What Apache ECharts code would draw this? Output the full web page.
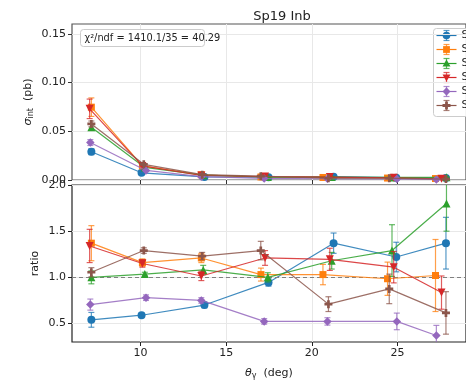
<!DOCTYPE html>
<html><head><meta charset="utf-8">
<script src="https://cdn.jsdelivr.net/npm/echarts@6/dist/echarts.min.js"></script>
<style>html,body{margin:0;padding:0;background:#fff}#c{width:466px;height:381px}</style>
</head><body><div id="c"></div>
<script>
// ---- data ----
const seriesNames = ['Syst 1','Syst 2','Syst 3','Syst 4','Syst 5','Syst 6'];
const xTickValues = [10, 15, 20, 25];
const sigmaTicks = [0, 0.05, 0.10, 0.15];
const ratioTicks = [0.5, 1.0, 1.5, 2.0];

const xBlue   = [7.13, 10.06, 13.73, 17.47, 21.27, 24.93, 27.83];
const xOrange = [7.13, 10.11, 13.55, 17.03, 20.65, 24.42, 27.22];
const xGreen  = [7.13, 10.25, 13.66, 17.43, 21.16, 24.68, 27.86];
const xRed    = [7.03, 10.11, 13.55, 17.27, 21.05, 24.78, 27.57];
const xPurple = [7.07, 10.32, 13.55, 17.22, 20.91, 24.96, 27.27];
const xBrown  = [7.13, 10.19, 13.60, 17.02, 20.97, 24.52, 27.83];

const sigBlue   = [0.0290, 0.0074, 0.0032, 0.0028, 0.0034, 0.0024, 0.0021];
const sigOrange = [0.0747, 0.0145, 0.0054, 0.0031, 0.0026, 0.0020, 0.0015];
const sigGreen  = [0.0540, 0.0129, 0.0049, 0.0030, 0.0030, 0.0026, 0.0027];
const sigRed    = [0.0730, 0.0144, 0.0046, 0.0036, 0.0030, 0.0022, 0.0013];
const sigPurple = [0.0384, 0.0098, 0.0034, 0.0016, 0.0013, 0.0010, 0.0006];
const sigBrown  = [0.0575, 0.0161, 0.0055, 0.0039, 0.0018, 0.0018, 0.0009];

const sigErrBlue   = [0.0030, 0.0008, 0.0003, 0.0002, 0.0003, 0.0003, 0.0004];
const sigErrOrange = [0.0095, 0.0009, 0.0003, 0.0002, 0.0003, 0.0004, 0.0006];
const sigErrGreen  = [0.0030, 0.0005, 0.0003, 0.0002, 0.0002, 0.0005, 0.0005];
const sigErrRed    = [0.0100, 0.0009, 0.0003, 0.0002, 0.0003, 0.0004, 0.0003];
const sigErrPurple = [0.0030, 0.0005, 0.0002, 0.0001, 0.0001, 0.0002, 0.0002];
const sigErrBrown  = [0.0030, 0.0005, 0.0003, 0.0003, 0.0002, 0.0003, 0.0003];

const ratBlue   = [0.54, 0.59, 0.70, 0.945, 1.37, 1.22, 1.37];
const ratOrange = [1.37, 1.16, 1.21, 1.03, 1.03, 0.985, 1.02];
const ratGreen  = [1.00, 1.035, 1.08, 1.00, 1.18, 1.29, 1.80];
const ratRed    = [1.34, 1.15, 1.015, 1.21, 1.195, 1.11, 0.835];
const ratPurple = [0.705, 0.78, 0.75, 0.523, 0.523, 0.523, 0.37];
const ratBrown  = [1.055, 1.29, 1.23, 1.29, 0.71, 0.875, 0.615];

const ratErrBlue   = [0.08, 0.02, 0.03, 0.04, 0.11, 0.16, 0.28];
const ratErrOrange = [0.19, 0.04, 0.05, 0.07, 0.11, 0.18, 0.39];
const ratErrGreen  = [0.07, 0.02, 0.05, 0.05, 0.09, 0.28, 0.30];
const ratErrRed    = [0.18, 0.04, 0.05, 0.08, 0.12, 0.17, 0.18];
const ratErrPurple = [0.06, 0.03, 0.03, 0.03, 0.04, 0.09, 0.11];
const ratErrBrown  = [0.05, 0.03, 0.04, 0.10, 0.08, 0.16, 0.23];

// ---- styling ----
const colors = ['#1f77b4','#ff7f0e','#2ca02c','#d62728','#9467bd','#8c564b'];
const plusPath = 'path://M-1,-3H1V-1H3V1H1V3H-1V1H-3V-1H-1Z';
const symbols = ['circle','rect','triangle','triangle','diamond', plusPath];
const symRot = [0,0,0,180,0,0];
const symSizes = [8,7,8,8,8.5,8];

const xs = [xBlue,xOrange,xGreen,xRed,xPurple,xBrown];
const sig = [sigBlue,sigOrange,sigGreen,sigRed,sigPurple,sigBrown];
const sigE = [sigErrBlue,sigErrOrange,sigErrGreen,sigErrRed,sigErrPurple,sigErrBrown];
const rat = [ratBlue,ratOrange,ratGreen,ratRed,ratPurple,ratBrown];
const ratE = [ratErrBlue,ratErrOrange,ratErrGreen,ratErrRed,ratErrPurple,ratErrBrown];

const FONT = 'DejaVu Sans';
const chart = echarts.init(document.getElementById('c'), null, {renderer:'canvas'});

function errRender(color){
  return function(params, api){
    const x = api.value(0), lo = api.value(1), hi = api.value(2);
    const p1 = api.coord([x, lo]), p2 = api.coord([x, hi]);
    const w = 3;
    const st = {stroke: color, lineWidth: 1.2, opacity: 0.75};
    return {type:'group', children:[
      {type:'line', shape:{x1:p1[0],y1:p1[1],x2:p2[0],y2:p2[1]}, style:st},
      {type:'line', shape:{x1:p1[0]-w,y1:p1[1],x2:p1[0]+w,y2:p1[1]}, style:st},
      {type:'line', shape:{x1:p2[0]-w,y1:p2[1],x2:p2[0]+w,y2:p2[1]}, style:st}
    ]};
  };
}

const series = [];
series.push({type:'line', xAxisIndex:1, yAxisIndex:1, data:[], silent:true,
  markLine:{silent:true, symbol:'none', label:{show:false},
    lineStyle:{color:'#808080', type:[4,3], width:1.1}, data:[{yAxis:1}]}, z:1});

for (let i=0;i<6;i++){
  for (let g=0; g<2; g++){
    const vals = g===0 ? sig[i] : rat[i];
    const errs = g===0 ? sigE[i] : ratE[i];
    series.push({
      type:'custom', xAxisIndex:g, yAxisIndex:g, clip:true, silent:true,
      renderItem: errRender(colors[i]),
      data: xs[i].map((x,k)=>[x, vals[k]-errs[k], vals[k]+errs[k]]),
      z: 2+i*2
    });
    series.push({
      type:'line', name:seriesNames[i], xAxisIndex:g, yAxisIndex:g, clip:true,
      data: xs[i].map((x,k)=>[x, vals[k]]),
      symbol: symbols[i], symbolSize: symSizes[i], symbolRotate: symRot[i],
      showAllSymbol:true,
      itemStyle:{color:colors[i], opacity:1},
      lineStyle:{color:colors[i], width:1.2, opacity:0.85},
      animation:false, z: 3+i*2
    });
  }
}

const axisLabelStyle = {fontFamily:FONT, fontSize:11, color:'#222'};
const splitLineStyle = {show:true, lineStyle:{color:'#e8e8e8', width:1}};

// legend graphics
function legendMarker(i, cx, cy){
  const c = colors[i];
  const st = {fill:c};
  if (i===0) return {type:'circle', shape:{cx:cx, cy:cy, r:3.8}, style:st};
  if (i===1) return {type:'rect', shape:{x:cx-3.4, y:cy-3.4, width:6.8, height:6.8}, style:st};
  if (i===2) return {type:'polygon', shape:{points:[[cx,cy-4],[cx+4,cy+3],[cx-4,cy+3]]}, style:st};
  if (i===3) return {type:'polygon', shape:{points:[[cx,cy+4],[cx+4,cy-3],[cx-4,cy-3]]}, style:st};
  if (i===4) return {type:'polygon', shape:{points:[[cx,cy-4.2],[cx+4,cy],[cx,cy+4.2],[cx-4,cy]]}, style:st};
  return {type:'polygon', shape:{points:[[cx-1.4,cy-4],[cx+1.4,cy-4],[cx+1.4,cy-1.4],[cx+4,cy-1.4],[cx+4,cy+1.4],[cx+1.4,cy+1.4],[cx+1.4,cy+4],[cx-1.4,cy+4],[cx-1.4,cy+1.4],[cx-4,cy+1.4],[cx-4,cy-1.4],[cx-1.4,cy-1.4]]}, style:st};
}
const legendChildren = [{type:'rect', shape:{x:0,y:0,width:60,height:88,r:3},
  style:{fill:'rgba(255,255,255,0.9)', stroke:'#cccccc', lineWidth:1}}];
for (let i=0;i<6;i++){
  const cy = 7 + i*14;
  const st = {stroke:colors[i], lineWidth:1.2};
  legendChildren.push({type:'line', shape:{x1:3,y1:cy,x2:23,y2:cy}, style:st});
  legendChildren.push({type:'line', shape:{x1:13,y1:cy-5,x2:13,y2:cy+5}, style:Object.assign({opacity:0.75},st)});
  legendChildren.push({type:'line', shape:{x1:10,y1:cy-5,x2:16,y2:cy-5}, style:Object.assign({opacity:0.75},st)});
  legendChildren.push({type:'line', shape:{x1:10,y1:cy+5,x2:16,y2:cy+5}, style:Object.assign({opacity:0.75},st)});
  legendChildren.push(legendMarker(i, 13, cy));
  legendChildren.push({type:'text', x:28, y:cy, style:{text:seriesNames[i], fill:'#222', font:'11px "DejaVu Sans"', verticalAlign:'middle'}});
}

const option = {
  animation:false,
  backgroundColor:'#fff',
  title:{text:'Sp19 Inb', left:277, top:5, textAlign:'center',
    textStyle:{fontFamily:FONT, fontSize:13, fontWeight:'normal', color:'#222'}},
  grid:[
    {left:72, top:24, width:411, height:156, show:true, borderColor:'#555', borderWidth:1.2, backgroundColor:'transparent'},
    {left:72, top:185, width:411, height:157, show:true, borderColor:'#222', borderWidth:1.2, backgroundColor:'transparent'}
  ],
  xAxis:[
    {type:'value', gridIndex:0, min:6, max:29,
      axisLine:{show:false}, axisTick:{show:true, length:4, customValues:xTickValues, lineStyle:{color:'#333'}},
      axisLabel:{show:false, customValues:xTickValues}, splitLine:splitLineStyle},
    {type:'value', gridIndex:1, min:6, max:29,
      name:'{t|θ}{s|γ}  (deg)', nameLocation:'middle', nameGap:24, nameMoveOverlap:false,
      nameTextStyle:{fontFamily:FONT, fontSize:11, color:'#222', rich:{
        t:{fontFamily:FONT, fontSize:11, fontStyle:'italic', color:'#222'},
        s:{fontFamily:FONT, fontSize:8, color:'#222', verticalAlign:'bottom', padding:[6,0,0,0]}}},
      axisLine:{show:false}, axisTick:{show:true, length:4, customValues:xTickValues, lineStyle:{color:'#222'}},
      axisLabel:Object.assign({customValues:xTickValues, margin:6}, axisLabelStyle), splitLine:splitLineStyle}
  ],
  yAxis:[
    {type:'value', gridIndex:0, min:0, max:0.16,
      name:'{s|σ}{u|int}  (pb)', nameLocation:'middle', nameGap:37, nameMoveOverlap:false,
      nameTextStyle:{fontFamily:FONT, fontSize:11, color:'#222', rich:{
        s:{fontFamily:FONT, fontSize:11, fontStyle:'italic', color:'#222'},
        u:{fontFamily:FONT, fontSize:8, color:'#222', padding:[6,0,0,0]}}},
      axisLine:{show:false}, axisTick:{show:true, length:4, customValues:sigmaTicks, lineStyle:{color:'#333'}},
      axisLabel:Object.assign({customValues:sigmaTicks, margin:6, formatter:v=>v.toFixed(2)}, axisLabelStyle),
      splitLine:splitLineStyle},
    {type:'value', gridIndex:1, min:0.3, max:2.0,
      name:'ratio', nameLocation:'middle', nameGap:31, nameMoveOverlap:false,
      nameTextStyle:{fontFamily:FONT, fontSize:11, color:'#222'},
      axisLine:{show:false}, axisTick:{show:true, length:4, customValues:ratioTicks, lineStyle:{color:'#222'}},
      axisLabel:Object.assign({customValues:ratioTicks, margin:6, formatter:v=>v.toFixed(1)}, axisLabelStyle),
      splitLine:splitLineStyle}
  ],
  graphic:[
    {type:'group', left:80, top:29, z:100, children:[
      {type:'rect', z:100, shape:{x:0,y:0,width:124,height:17,r:3}, style:{fill:'#ffffff', stroke:'#cccccc', lineWidth:1}},
      {type:'text', z:101, x:4, y:9, style:{text:'χ²/ndf = 1410.1/35 = 40.29', font:'9.8px "DejaVu Sans"', fill:'#222', verticalAlign:'middle'}}
    ]},
    {type:'group', left:433, top:28, z:100, children:legendChildren}
  ],
  series: series
};
chart.setOption(option);
</script>
</body></html>
